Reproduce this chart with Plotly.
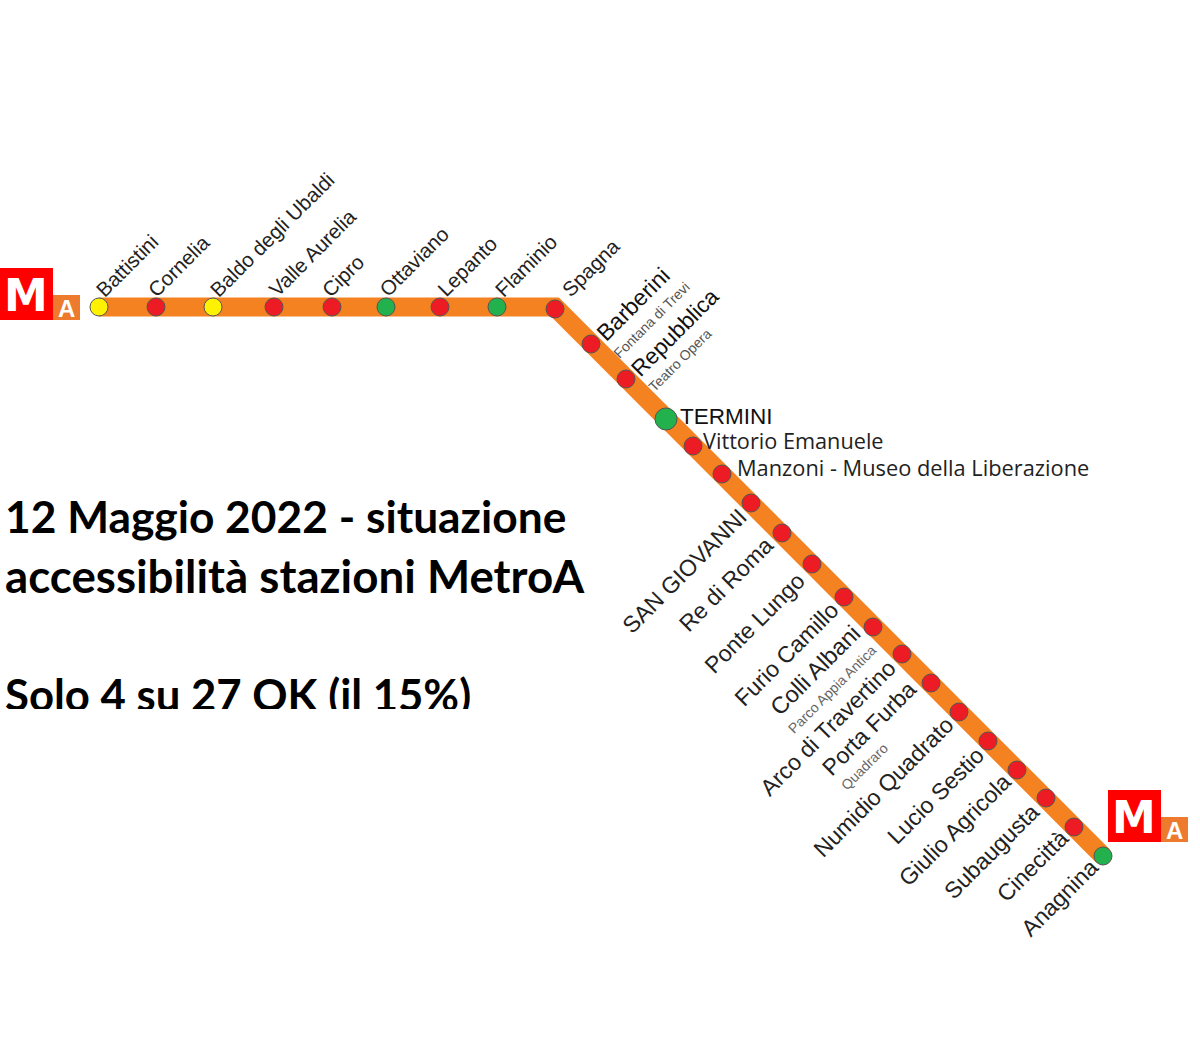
import plotly.graph_objects as go

# stations along the line, pixel grid of the map
stations = ["Battistini", "Cornelia", "Baldo degli Ubaldi", "Valle Aurelia", "Cipro", "Ottaviano",
            "Lepanto", "Flaminio", "Spagna", "Barberini", "Repubblica", "TERMINI",
            "Vittorio Emanuele", "Manzoni - Museo della Liberazione", "SAN GIOVANNI", "Re di Roma",
            "Ponte Lungo", "Furio Camillo", "Colli Albani", "Arco di Travertino", "Porta Furba",
            "Numidio Quadrato", "Lucio Sestio", "Giulio Agricola", "Subaugusta", "Cinecittà", "Anagnina"]
station_x = [99, 156, 213, 274, 332, 386, 440, 497, 555, 591, 626, 666, 693, 722, 751, 782,
             812, 844, 873, 902, 931, 959, 988, 1017, 1046, 1074, 1103]
station_y = [307, 307, 307, 307, 307, 307, 307, 307, 309, 344, 379, 419, 446, 474, 503, 533,
             564, 597, 627, 654, 683, 712, 741, 770, 798, 827, 856]
status = ["y", "r", "y", "r", "r", "g", "r", "g", "r", "r", "r", "g", "r", "r", "r", "r",
          "r", "r", "r", "r", "r", "r", "r", "r", "r", "r", "g"]
line_x = [99, 555, 1103]
line_y = [307, 307, 856]

status_colors = {"y": "#FFF200", "r": "#ED1C24", "g": "#22B14C"}

# label, x, y, angle, anchors, size, colour, family
arial = "Liberation Sans"
labels = [
    ("Battistini", 90, 302, -45, "left", "bottom", 20.5, "#222222", arial),
    ("Cornelia", 142, 302, -45, "left", "bottom", 20.5, "#222222", arial),
    ("Baldo degli Ubaldi", 204, 302, -45, "left", "bottom", 20.5, "#222222", arial),
    ("Valle Aurelia", 263, 302, -45, "left", "bottom", 20.5, "#222222", arial),
    ("Cipro", 316, 302, -45, "left", "bottom", 20.5, "#222222", arial),
    ("Ottaviano", 373, 302, -45, "left", "bottom", 20.5, "#222222", arial),
    ("Lepanto", 431, 302, -45, "left", "bottom", 20.5, "#222222", arial),
    ("Flaminio", 489, 302, -45, "left", "bottom", 20.5, "#222222", arial),
    ("Spagna", 556, 302, -45, "left", "bottom", 20.5, "#222222", arial),
    ("Barberini", 590, 347, -45, "left", "bottom", 23, "#111111", arial),
    ("Fontana di Trevi", 609, 362, -45, "left", "bottom", 14, "#555555", arial),
    ("Repubblica", 625, 383, -45, "left", "bottom", 22.5, "#111111", arial),
    ("Teatro Opera", 644, 396, -45, "left", "bottom", 14, "#555555", arial),
    ("TERMINI", 679, 416, 0, "left", "middle", 22.5, "#111111", arial),
    ("Vittorio Emanuele", 702, 440, 0, "left", "middle", 21.7, "#222222", "Open Sans"),
    ("Manzoni - Museo della Liberazione", 736, 467, 0, "left", "middle", 21.8, "#222222", "Open Sans"),
    ("SAN GIOVANNI", 753, 502, -45, "right", "top", 23, "#222222", arial),
    ("Re di Roma", 780, 530, -45, "right", "top", 23, "#222222", arial),
    ("Ponte Lungo", 811, 566, -45, "right", "top", 23, "#222222", arial),
    ("Furio Camillo", 845, 596, -45, "right", "top", 23, "#222222", arial),
    ("Colli Albani", 867, 618, -45, "right", "top", 23.4, "#222222", arial),
    ("Parco Appia Antica", 881, 640, -45, "right", "top", 14, "#666666", arial),
    ("Arco di Travertino", 902, 654, -45, "right", "top", 23, "#222222", arial),
    ("Porta Furba", 923, 674, -45, "right", "top", 23, "#222222", arial),
    ("Quadraro", 892, 739, -45, "right", "top", 14, "#666666", arial),
    ("Numidio Quadrato", 960, 710, -45, "right", "top", 23, "#222222", arial),
    ("Lucio Sestio", 990, 741, -45, "right", "top", 23, "#222222", arial),
    ("Giulio Agricola", 1017, 767, -45, "right", "top", 23, "#222222", arial),
    ("Subaugusta", 1046, 797, -45, "right", "top", 23, "#222222", arial),
    ("Cinecittà", 1075, 824, -45, "right", "top", 23, "#222222", arial),
    ("Anagnina", 1104, 853, -45, "right", "top", 23, "#222222", arial),
]

title_lines = ["12 Maggio 2022 - situazione", "accessibilità stazioni MetroA"]
title_y = [522, 582]
title_sizes = [44.3, 45.7]
clipped_line = "Solo 4 su 27 OK (il 15%)"
clipped_y = 700

logo_x = [0, 1108]
logo_y = [268, 790]

fig = go.Figure()

fig.add_trace(go.Scatter(x=line_x, y=line_y, mode="lines", hoverinfo="skip",
                         line=dict(color="#F58220", width=19)))
fig.add_trace(go.Scatter(
    x=station_x, y=station_y, mode="markers", text=stations, hoverinfo="text",
    marker=dict(
        color=[status_colors[s] for s in status],
        size=[22 if s == "TERMINI" else 18 for s in stations],
        opacity=1,
        line=dict(color="#555555", width=1),
    ),
))

fig.add_trace(go.Scatter(
    x=[5, 5], y=title_y, mode="text", text=title_lines, textposition="middle right",
    textfont=dict(family="Lato", size=title_sizes, color="black", weight="bold"), hoverinfo="skip",
))
# third line is cut off at the bottom in the original image, so it lives on its own short axis
fig.add_trace(go.Scatter(
    x=[5], y=[clipped_y], mode="text", text=[clipped_line], textposition="middle right",
    textfont=dict(family="Lato", size=43.7, color="black", weight="bold"), hoverinfo="skip",
    cliponaxis=True, xaxis="x2", yaxis="y2",
))

for lx, ly in zip(logo_x, logo_y):
    fig.add_shape(type="rect", x0=lx, x1=lx + 53, y0=ly, y1=ly + 52, fillcolor="#FF0000", line_width=0)
    fig.add_shape(type="rect", x0=lx + 53, x1=lx + 80, y0=ly + 27, y1=ly + 52, fillcolor="#EE7A2D", line_width=0)
    fig.add_annotation(x=lx + 26, y=ly + 27, text="<b>M</b>", showarrow=False,
                       font=dict(family="DejaVu Sans", size=44, color="white"))
    fig.add_annotation(x=lx + 66, y=ly + 40, text="<b>A</b>", showarrow=False,
                       font=dict(family="Liberation Sans", size=24, color="white"))

for text, x, y, angle, xanchor, yanchor, size, color, family in labels:
    fig.add_annotation(x=x, y=y, text=text, showarrow=False, textangle=angle,
                       xanchor=xanchor, yanchor=yanchor, borderpad=0,
                       font=dict(family=family, size=size, color=color))

fig.update_layout(
    width=1200,
    height=1044,
    margin=dict(l=0, r=0, t=0, b=0),
    paper_bgcolor="white",
    plot_bgcolor="rgba(0,0,0,0)",
    showlegend=False,
    xaxis=dict(range=[0, 1200], visible=False),
    yaxis=dict(range=[1044, 0], visible=False),
    xaxis2=dict(range=[0, 1200], visible=False, domain=[0, 1], anchor="y2"),
    yaxis2=dict(range=[709, 0], visible=False, domain=[1 - 709 / 1044, 1], anchor="x2"),
)

fig.write_html("out.html", config={"displayModeBar": False},
               post_script="document.body.style.margin='0';")
